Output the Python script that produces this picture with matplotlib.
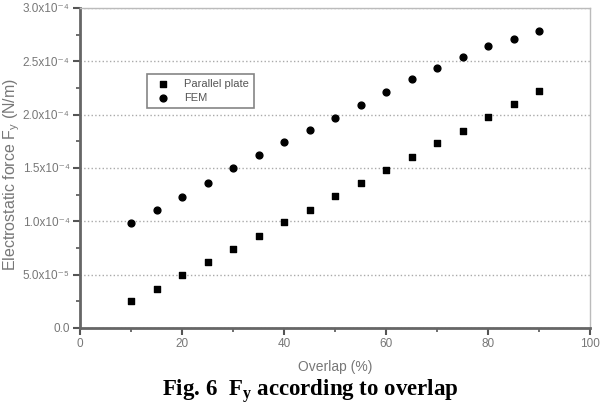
import matplotlib
matplotlib.use("Agg")
import matplotlib.pyplot as plt
from matplotlib.ticker import MultipleLocator, FixedLocator

plt.rcParams['font.family'] = ['Liberation Sans', 'DejaVu Sans']

# Données
overlap = [10, 15, 20, 25, 30, 35, 40, 45, 50, 55, 60, 65, 70, 75, 80, 85, 90]
parallel_plate = [2.5e-5, 3.7e-5, 4.95e-5, 6.2e-5, 7.4e-5, 8.65e-5, 9.9e-5, 1.11e-4,
                  1.235e-4, 1.36e-4, 1.48e-4, 1.605e-4, 1.73e-4, 1.85e-4, 1.98e-4,
                  2.1e-4, 2.22e-4]
fem = [0.98e-4, 1.11e-4, 1.23e-4, 1.36e-4, 1.50e-4, 1.62e-4, 1.74e-4, 1.86e-4,
       1.97e-4, 2.09e-4, 2.21e-4, 2.33e-4, 2.44e-4, 2.54e-4, 2.64e-4, 2.71e-4, 2.78e-4]

yticks = [0, 0.5e-4, 1.0e-4, 1.5e-4, 2.0e-4, 2.5e-4, 3.0e-4]
ytick_labels = ["0.0", "5.0x10⁻⁵", "1.0x10⁻⁴", "1.5x10⁻⁴",
                "2.0x10⁻⁴", "2.5x10⁻⁴", "3.0x10⁻⁴"]

fig = plt.figure(figsize=(6.01, 4.05), dpi=100)
ax = fig.add_axes([80 / 601, 1 - 328 / 405, 510 / 601, 320 / 405])
ax.set_axisbelow(True)

ax.scatter(overlap, parallel_plate, marker='s', s=22, color='black', label="Parallel plate", zorder=3)
ax.scatter(overlap, fem, marker='o', s=24, color='black', label="FEM", zorder=3)

ax.set_xlim(0, 100)
ax.set_ylim(0, 3.0e-4)
ax.xaxis.set_major_locator(MultipleLocator(20))
ax.xaxis.set_minor_locator(MultipleLocator(10))
ax.yaxis.set_major_locator(FixedLocator(yticks))
ax.yaxis.set_minor_locator(MultipleLocator(0.25e-4))
ax.set_yticklabels(ytick_labels)

grey = '#777777'
ax.tick_params(axis='both', which='major', direction='out', length=5, width=1.5,
               color='#555555', labelsize=8.5, labelcolor=grey, pad=2.5)
ax.tick_params(axis='both', which='minor', direction='out', length=3, width=1.2,
               color='#555555')
for side in ['left', 'bottom']:
    ax.spines[side].set_linewidth(2)
    ax.spines[side].set_color('#666666')
for side in ['top', 'right']:
    ax.spines[side].set_linewidth(1)
    ax.spines[side].set_color('#bbbbbb')

ax.grid(True, axis='y', which='major', linestyle=':', color='#aaaaaa', linewidth=1)

ax.set_xlabel("Overlap (%)", fontsize=10, color=grey, labelpad=7)
ax.set_ylabel(r"Electrostatic force F$_\mathregular{y}$ (N/m)", fontsize=11.5, color=grey)
ax.yaxis.set_label_coords(-58 / 510, 0.48)

leg = ax.legend(loc='upper left', bbox_to_anchor=(0.12, 0.81), fontsize=8,
                frameon=True, fancybox=False, handletextpad=0.9, borderpad=0.45,
                labelspacing=0.3)
leg.get_frame().set_edgecolor('#666666')
leg.get_frame().set_linewidth(1.2)
for t in leg.get_texts():
    t.set_color('#555555')

fig.text(310 / 601, 1 - 392 / 405, r"Fig. 6  F$_\mathregular{y}$ according to overlap",
         ha='center', va='center', fontsize=16.5, fontweight='bold',
         family=['Liberation Serif', 'DejaVu Serif'])

fig.savefig("out.png", dpi=100)
